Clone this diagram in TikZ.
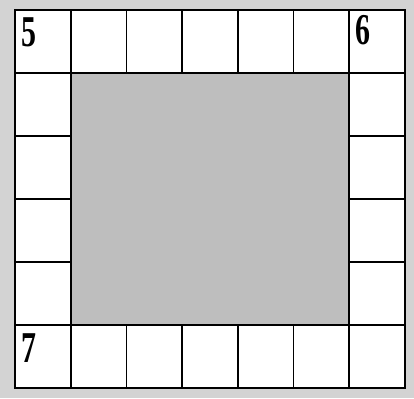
\documentclass[tikz,border=0pt]{standalone}
\usepackage{fontspec}
\setmainfont{Liberation Serif}
\usepackage{graphicx}
\usepackage{xcolor}
\definecolor{brdbg}{HTML}{D3D3D3}
\definecolor{brdmid}{HTML}{BEBEBE}
\usetikzlibrary{positioning}
\tikzset{
  brdcell/.style={draw,fill=white,line width=1.7pt,minimum width=55.7pt,minimum height=63pt,inner sep=0pt,outer sep=0pt},
  brdnum/.style={font=\fontsize{44}{44}\selectfont\bfseries,anchor=north west,inner sep=0pt},
  brdframe/.style={line width=2.8pt},
}

\begin{document}
\begin{tikzpicture}[x=1pt,y=-1pt]
\fill[brdbg](0,0) rectangle (414,398);
\useasboundingbox (0,0) rectangle (414,398);
\fill[brdmid](70.7,73) rectangle (349.3,325);
% top and bottom rows
\foreach \i in {0,...,6}{
  \node[brdcell] (top\i) at ({15+55.7*\i+27.85},41.5) {};
  \node[brdcell] (bot\i) at ({15+55.7*\i+27.85},356.5) {};
}
% side columns
\foreach \j in {1,...,4}{
  \node[brdcell] (lft\j) at (42.85,{10+63*\j+31.5}) {};
  \node[brdcell] (rgt\j) at (377.15,{10+63*\j+31.5}) {};
}
\draw[brdframe](top0.north west) rectangle (bot6.south east);
\draw[brdframe](bot0.north west) -- (bot6.north east);
\draw[line width=2.2pt](top1.south west) rectangle (bot5.north east);
\node[brdnum] (n5) at (21,17) {\scalebox{0.68}[1]{5}};
\node[brdnum] (n6) at (355,15) {\scalebox{0.68}[1]{6}};
\node[brdnum] (n7) at (21,333) {\scalebox{0.68}[1]{7}};
\end{tikzpicture}
\end{document}
